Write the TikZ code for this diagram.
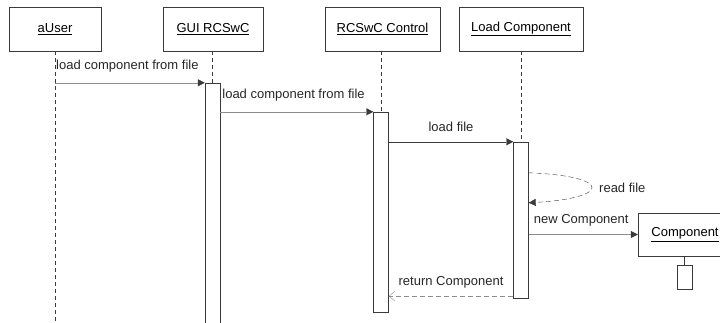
\documentclass[tikz,border=0pt]{standalone}
\usepackage{fontspec}
\setmainfont{Liberation Sans}
\usetikzlibrary{arrows.meta, positioning, calc}
\definecolor{seqdark}{HTML}{3A3A3A}
\definecolor{seqgray}{HTML}{8C8C8C}

\begin{document}
\begin{tikzpicture}[x=1pt, y=-1pt,
    obj/.style={rectangle, draw=seqdark, fill=white, minimum width=#1, minimum height=44pt,
                inner sep=0pt, font=\fontsize{13}{15}\selectfont},
    actbar/.style={rectangle, draw=seqdark, fill=white, minimum width=15pt, minimum height=#1, inner sep=0pt},
    life/.style={draw=seqdark, dashed, dash pattern=on 4pt off 3pt},
    call/.style={draw=#1, -{Triangle[length=7pt, width=7pt, color=seqdark]}},
    reply/.style={draw=seqgray, dashed, dash pattern=on 5pt off 3pt, -{Straight Barb[length=6pt, width=10pt]}},
    lbl/.style={font=\fontsize{13}{15}\selectfont, text=black!85, inner sep=1pt}
]
\clip (0,0) rectangle (720,322);

% objects
\node[obj=92pt]  (user) at (55,29)    {\underline{aUser}};
\node[obj=100pt] (gui)  at (213,29)   {\underline{GUI RCSwC}};
\node[obj=115pt] (ctrl) at (382.5,29) {\underline{RCSwC Control}};
\node[obj=124pt] (load) at (521,29)   {\underline{Load Component}};
\node[obj=94pt, minimum height=43pt] (comp) at (685,234.5) {\underline{Component}};

% activations
\node[actbar=241pt] (guibar)  at (212.5,203.5) {};
\node[actbar=200pt] (ctrlbar) at (381,212)     {};
\node[actbar=156pt] (loadbar) at (521,220)     {};
\node[actbar=24pt]  (compbar) at (684.5,277)   {};

% lifelines
\coordinate (userend) at (user.south |- 0,322);
\draw[life] (user.south) -- (userend);
\draw[life] (gui.south -| guibar.north) -- (guibar.north);
\draw[life] (ctrl.south -| ctrlbar.north) -- (ctrlbar.north);
\draw[life] (load.south -| loadbar.north) -- (loadbar.north);
\draw[seqdark] (comp.south -| compbar.north) -- (compbar.north);

% messages
\draw[call=seqgray] (user.south |- guibar.north) -- (guibar.north west)
    node[lbl, pos=0, above right, yshift=9pt] {load component from file};
\draw[call=seqgray] (guibar.north east |- ctrlbar.north) -- (ctrlbar.north west)
    node[lbl, pos=0, above right, xshift=1pt, yshift=9pt] {load component from file};
\draw[call=seqdark] (ctrlbar.east |- loadbar.north) -- (loadbar.north west)
    node[lbl, midway, above, yshift=9pt] {load file};
\coordinate (readout) at ($(loadbar.north east)+(0,31)$);
\coordinate (readin)  at ($(loadbar.north east)+(0,61)$);
\draw[call=seqdark, dashed, dash pattern=on 5pt off 3pt]
    (readout) .. controls (612,176) and (612,198) .. (readin);
\node[lbl, anchor=west] (readlbl) at (598,188) {read file};
\draw[call=seqgray] (loadbar.east |- comp.west) -- (comp.west)
    node[lbl, pos=0, above right, xshift=4pt, yshift=7pt] {new Component};
\coordinate (retfrom) at ($(loadbar.south west)+(0,-2)$);
\draw[reply] (retfrom) -- (ctrlbar.east |- retfrom)
    node[lbl, midway, above, yshift=7pt] {return Component};
\end{tikzpicture}
\end{document}
